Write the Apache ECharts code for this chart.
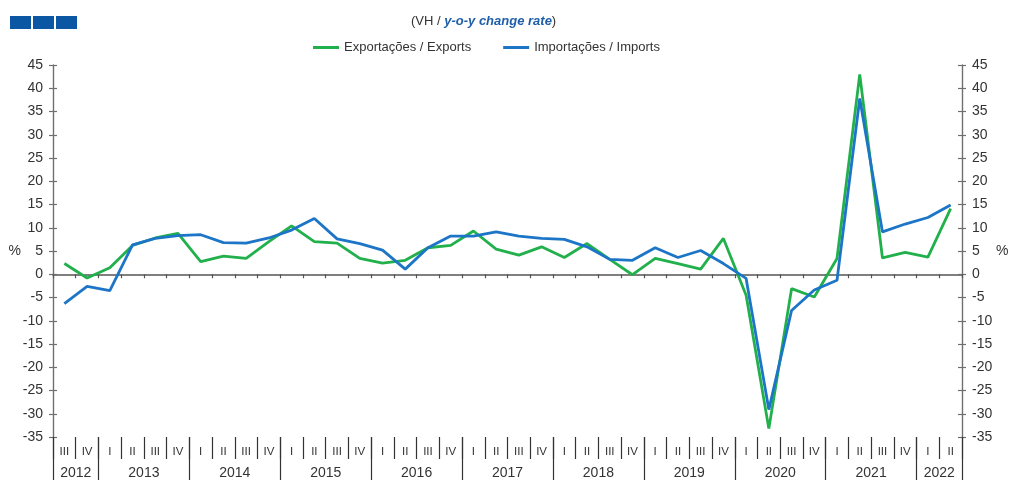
<!DOCTYPE html>
<html>
<head>
<meta charset="utf-8">
<script src="https://cdn.jsdelivr.net/npm/echarts@6/dist/echarts.min.js"></script>
<style>
  html, body { margin: 0; padding: 0; background: #fff; overflow: hidden; }
  #chart { width: 1010px; height: 480px; }
</style>
</head>
<body>
<div id="chart"></div>
<script>
// quarters 2012 III .. 2022 II
const categories = [
  '2012 III', '2012 IV',
  '2013 I', '2013 II', '2013 III', '2013 IV',
  '2014 I', '2014 II', '2014 III', '2014 IV',
  '2015 I', '2015 II', '2015 III', '2015 IV',
  '2016 I', '2016 II', '2016 III', '2016 IV',
  '2017 I', '2017 II', '2017 III', '2017 IV',
  '2018 I', '2018 II', '2018 III', '2018 IV',
  '2019 I', '2019 II', '2019 III', '2019 IV',
  '2020 I', '2020 II', '2020 III', '2020 IV',
  '2021 I', '2021 II', '2021 III', '2021 IV',
  '2022 I', '2022 II'
]
// index where each year label sits (centered between this band and the next)
const yearLabelIdx = [0, 3, 7, 11, 15, 19, 23, 27, 31, 35, 38]

const exportsVals = [2.3, -0.8, 1.4, 6.2, 7.8, 8.8, 2.7, 3.9, 3.4, 7.0,
  10.4, 7.0, 6.7, 3.4, 2.4, 3.0, 5.7, 6.2, 9.3, 5.4,
  4.1, 5.9, 3.6, 6.6, 3.2, -0.1, 3.4, 2.3, 1.1, 7.7,
  -4.5, -33.2, -3.1, -4.9, 3.4, 43.0, 3.5, 4.7, 3.7, 14.1]
const importsVals = [-6.3, -2.6, -3.5, 6.3, 7.7, 8.3, 8.5, 6.8, 6.7, 7.8,
  9.5, 12.0, 7.6, 6.6, 5.2, 1.1, 5.7, 8.2, 8.2, 9.1,
  8.2, 7.7, 7.5, 5.9, 3.2, 3.0, 5.7, 3.6, 5.1, 2.3,
  -0.9, -29.1, -7.8, -3.4, -1.3, 37.8, 9.1, 10.8, 12.2, 14.9]

const green = '#21b04b'
const blue = '#1c75c6'
const axisCol = '#6e6e6e'
const txt = '#333333'
const font = 'Liberation Sans, Arial, sans-serif'

const bandW = 909 / categories.length

const mychart = echarts.init(document.getElementById('chart'))

function yAx(pos, inside, labels) {
  return {
    type: 'value', position: pos, min: -35, max: 45, interval: 5,
    name: labels ? '%' : '', nameLocation: 'middle', nameRotate: 0,
    nameGap: pos === 'left' ? 32 : 34, nameMoveOverlap: false,
    nameTextStyle: { color: txt, fontSize: 14, fontFamily: font },
    axisLine: { show: true, lineStyle: { color: axisCol, width: 1.2 } },
    axisTick: { show: true, inside: inside, length: 4, lineStyle: { color: axisCol, width: 1.2 } },
    axisLabel: { show: labels, color: txt, fontSize: 14, fontFamily: font, margin: 10 },
    splitLine: { show: false }
  }
}

let option = {
  animation: false,
  textStyle: { fontFamily: font },
  title: {
    left: 406, top: 10,
    text: '{a|(VH / }{b|y-o-y change rate}{a|)}',
    textStyle: {
      fontWeight: 'normal',
      rich: {
        a: { color: txt, fontSize: 13, fontWeight: 'normal', fontFamily: font },
        b: { color: '#1f5fa8', fontSize: 13, fontStyle: 'italic', fontWeight: 'bold', fontFamily: font }
      }
    }
  },
  legend: {
    left: 308, top: 36, icon: 'rect',
    itemWidth: 26, itemHeight: 3, itemGap: 32,
    textStyle: { color: txt, fontSize: 13, fontFamily: font },
    data: ['Exportações / Exports', 'Importações / Imports']
  },
  graphic: [
    { type: 'rect', shape: { x: 10, y: 16, width: 21, height: 13 }, style: { fill: '#0b57a4' } },
    { type: 'rect', shape: { x: 33, y: 16, width: 21, height: 13 }, style: { fill: '#0b57a4' } },
    { type: 'rect', shape: { x: 56, y: 16, width: 21, height: 13 }, style: { fill: '#0b57a4' } }
  ],
  grid: { left: 53, right: 48, top: 65, bottom: 43, outerBoundsMode: 'none' },
  xAxis: [
    {
      // zero line with small ticks
      type: 'category', data: categories, boundaryGap: true,
      axisLine: { onZero: true, lineStyle: { color: '#555', width: 1.5 } },
      axisTick: { show: true, interval: 0, length: 4, lineStyle: { color: '#555', width: 1.2 } },
      axisLabel: { show: false }
    },
    {
      // quarter row
      type: 'category', data: categories, boundaryGap: true, position: 'bottom',
      axisLine: { show: false, onZero: false },
      axisTick: { show: true, interval: 0, length: 22, lineStyle: { color: '#333', width: 1.2 } },
      axisLabel: {
        show: true, interval: 0, margin: 9, color: txt, fontSize: 11.5, fontFamily: font,
        formatter: v => v.split(' ')[1]
      }
    },
    {
      // year row
      type: 'category', data: categories, boundaryGap: true, position: 'bottom',
      axisLine: { show: false, onZero: false },
      axisTick: {
        show: true, length: 43, lineStyle: { color: '#333', width: 1.2 },
        interval: (index, value) => index === 0 || value.split(' ')[1] === 'I'
      },
      axisLabel: {
        show: true, margin: 29, color: txt, fontSize: 14, fontFamily: font,
        padding: [0, 0, 0, bandW],
        interval: (index) => yearLabelIdx.indexOf(index) >= 0,
        formatter: v => v.split(' ')[0]
      }
    }
  ],
  yAxis: [
    yAx('left', false, true),
    yAx('right', false, true),
    yAx('left', true, false),
    yAx('right', true, false)
  ],
  series: [
    {
      name: 'Exportações / Exports', type: 'line', data: exportsVals,
      xAxisIndex: 0, yAxisIndex: 0, symbol: 'none',
      lineStyle: { color: green, width: 2.8 }, itemStyle: { color: green }
    },
    {
      name: 'Importações / Imports', type: 'line', data: importsVals,
      xAxisIndex: 0, yAxisIndex: 0, symbol: 'none',
      lineStyle: { color: blue, width: 2.8 }, itemStyle: { color: blue }
    }
  ]
}
mychart.setOption(option)
</script>
</body>
</html>
